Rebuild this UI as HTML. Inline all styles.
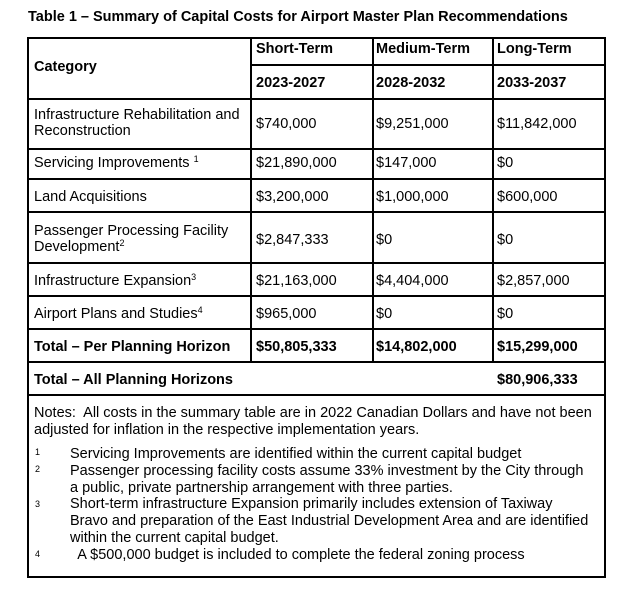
<!DOCTYPE html>
<html><head><meta charset="utf-8"><style>
body{margin:0;width:634px;height:596px;background:#fff;font-family:"Liberation Sans",Arial,sans-serif;color:#000;position:relative;overflow:hidden}
.t{position:absolute;white-space:nowrap;font-size:14.5px;line-height:16px}
.b{font-weight:bold}
.h{position:absolute;background:#000;height:2px}
.v{position:absolute;background:#000;width:2px}
sup{font-size:9px;vertical-align:5px;line-height:0}
</style></head><body>
<div class="t b" style="left:28px;top:9px;font-size:14.5px">Table 1 – Summary of Capital Costs for Airport Master Plan Recommendations</div>

<div class="h" style="left:28px;top:37px;width:578px"></div>
<div class="h" style="left:250px;top:64px;width:356px"></div>
<div class="h" style="left:28px;top:98px;width:578px"></div>
<div class="h" style="left:28px;top:148px;width:578px"></div>
<div class="h" style="left:28px;top:178px;width:578px"></div>
<div class="h" style="left:28px;top:211px;width:578px"></div>
<div class="h" style="left:28px;top:262px;width:578px"></div>
<div class="h" style="left:28px;top:295px;width:578px"></div>
<div class="h" style="left:28px;top:328px;width:578px"></div>
<div class="h" style="left:28px;top:361px;width:578px"></div>
<div class="h" style="left:28px;top:394px;width:578px"></div>
<div class="h" style="left:28px;top:576px;width:578px"></div>
<div class="v" style="left:27px;top:37px;height:541px"></div>
<div class="v" style="left:604px;top:37px;height:541px"></div>
<div class="v" style="left:250px;top:37px;height:326px"></div>
<div class="v" style="left:372px;top:37px;height:326px"></div>
<div class="v" style="left:492px;top:37px;height:326px"></div>

<div class="t b" style="left:34px;top:59px">Category</div>
<div class="t b" style="left:256px;top:41px">Short-Term</div>
<div class="t b" style="left:376px;top:41px">Medium-Term</div>
<div class="t b" style="left:497px;top:41px">Long-Term</div>
<div class="t b" style="left:256px;top:75px">2023-2027</div>
<div class="t b" style="left:376px;top:75px">2028-2032</div>
<div class="t b" style="left:497px;top:75px">2033-2037</div>

<div class="t" style="left:34px;top:107px">Infrastructure Rehabilitation and<br>Reconstruction</div>
<div class="t" style="left:256px;top:116px">$740,000</div><div class="t" style="left:376px;top:116px">$9,251,000</div><div class="t" style="left:497px;top:116px">$11,842,000</div>

<div class="t" style="left:34px;top:155px">Servicing Improvements <sup>1</sup></div>
<div class="t" style="left:256px;top:155px">$21,890,000</div><div class="t" style="left:376px;top:155px">$147,000</div><div class="t" style="left:497px;top:155px">$0</div>

<div class="t" style="left:34px;top:189px">Land Acquisitions</div>
<div class="t" style="left:256px;top:189px">$3,200,000</div><div class="t" style="left:376px;top:189px">$1,000,000</div><div class="t" style="left:497px;top:189px">$600,000</div>

<div class="t" style="left:34px;top:223px">Passenger Processing Facility<br>Development<sup>2</sup></div>
<div class="t" style="left:256px;top:232px">$2,847,333</div><div class="t" style="left:376px;top:232px">$0</div><div class="t" style="left:497px;top:232px">$0</div>

<div class="t" style="left:34px;top:273px">Infrastructure Expansion<sup>3</sup></div>
<div class="t" style="left:256px;top:273px">$21,163,000</div><div class="t" style="left:376px;top:273px">$4,404,000</div><div class="t" style="left:497px;top:273px">$2,857,000</div>

<div class="t" style="left:34px;top:306px">Airport Plans and Studies<sup>4</sup></div>
<div class="t" style="left:256px;top:306px">$965,000</div><div class="t" style="left:376px;top:306px">$0</div><div class="t" style="left:497px;top:306px">$0</div>

<div class="t b" style="left:34px;top:339px">Total – Per Planning Horizon</div>
<div class="t b" style="left:256px;top:339px">$50,805,333</div><div class="t b" style="left:376px;top:339px">$14,802,000</div><div class="t b" style="left:497px;top:339px">$15,299,000</div>

<div class="t b" style="left:34px;top:372px">Total – All Planning Horizons</div>
<div class="t b" style="left:497px;top:372px">$80,906,333</div>

<div class="t" style="left:34px;top:405px;line-height:17px">Notes:&nbsp; All costs in the summary table are in 2022 Canadian Dollars and have not been<br>adjusted for inflation in the respective implementation years.</div>
<div class="t" style="left:35px;top:444px;font-size:9px">1</div>
<div class="t" style="left:35px;top:461px;font-size:9px">2</div>
<div class="t" style="left:35px;top:496px;font-size:9px">3</div>
<div class="t" style="left:35px;top:546px;font-size:9px">4</div>
<div class="t" style="left:70px;top:446px;line-height:16.8px">Servicing Improvements are identified within the current capital budget<br>Passenger processing facility costs assume 33% investment by the City through<br>a public, private partnership arrangement with three parties.<br>Short-term infrastructure Expansion primarily includes extension of Taxiway<br>Bravo and preparation of the East Industrial Development Area and are identified<br>within the current capital budget.<br>&nbsp; A $500,000 budget is included to complete the federal zoning process</div>
</body></html>
